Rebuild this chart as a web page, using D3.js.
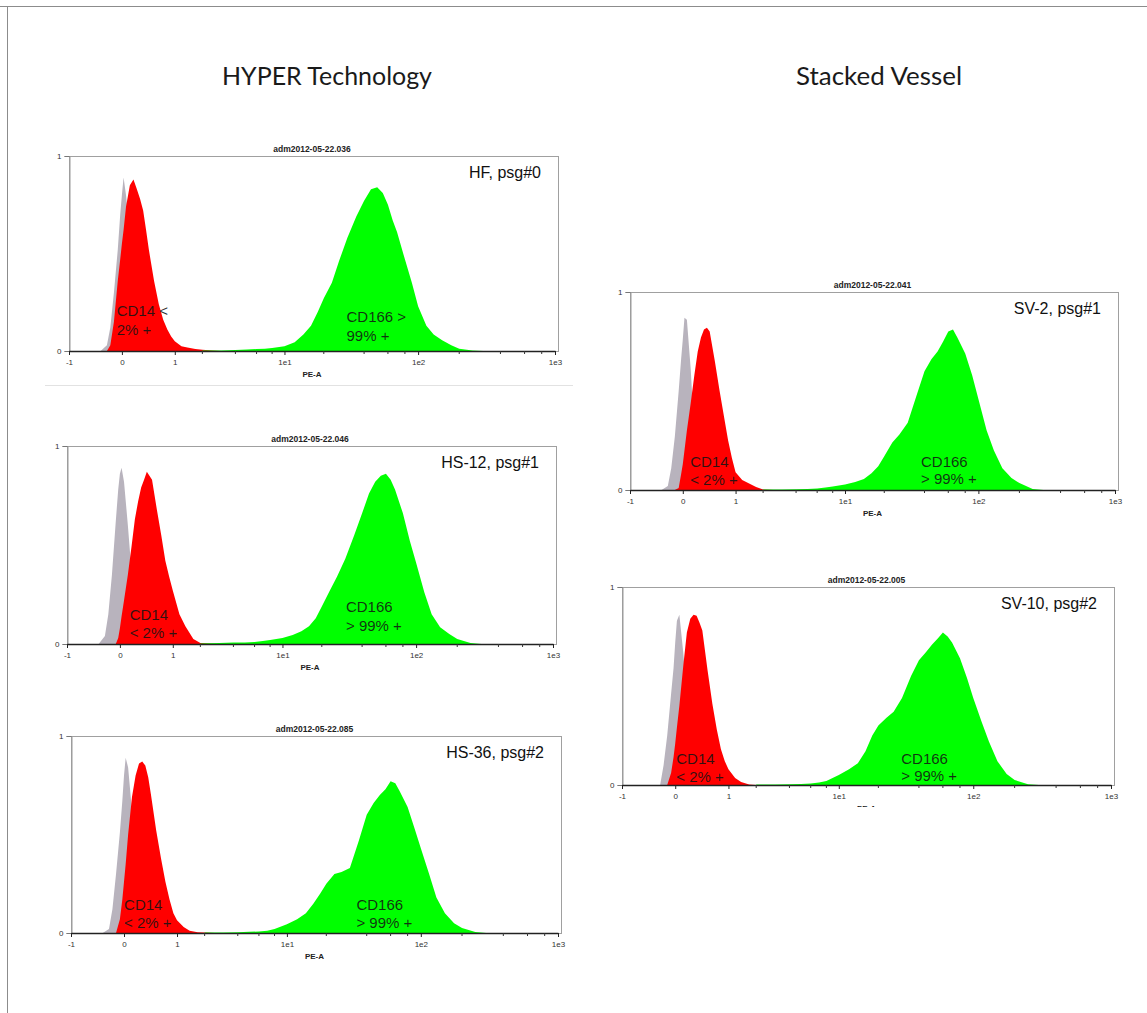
<!DOCTYPE html>
<html>
<head>
<meta charset="utf-8">
<script src="https://cdn.jsdelivr.net/npm/d3@7"></script>
<style>
  body { margin: 0; background: #fff; }
  svg { display: block; }
</style>
</head>
<body>
<svg id="fig" width="1147" height="1013"></svg>
<script>
// PE-A channel values the histograms are sampled on
var leftGrid = [-0.3, -0.2, -0.15, -0.1, -0.05, -0.02, 0, 0.02, 0.05, 0.1, 0.15, 0.2, 0.25, 0.3,
  0.35, 0.4, 0.5, 0.6, 0.7, 0.8, 0.9, 1, 1.2, 1.4, 1.7, 2, 2.5, 3];
var greenGrid = [2, 3, 4, 5, 6, 7, 8, 10, 12, 14, 16, 18, 20, 23, 26, 30, 35, 40, 45, 50, 55,
  60, 65, 70, 80, 90, 100, 115, 130, 150, 175, 200, 250, 300];

var xTickValues = [-1, 0, 1, 10, 100, 1000];
var xTickLabels = ["-1", "0", "1", "1e1", "1e2", "1e3"];
var xMinorTicks = [2, 4, 6, 8, 20, 40, 60, 80, 200, 400, 600, 800];

var columnTitles = ["HYPER Technology", "Stacked Vessel"];
var fileNames = ["adm2012-05-22.036", "adm2012-05-22.046", "adm2012-05-22.085",
  "adm2012-05-22.041", "adm2012-05-22.005"];
var sampleNames = ["HF, psg#0", "HS-12, psg#1", "HS-36, psg#2", "SV-2, psg#1", "SV-10, psg#2"];
var cd14Text = [["CD14 <", "2% +"], ["CD14", "< 2% +"], ["CD14", "< 2% +"], ["CD14", "< 2% +"], ["CD14", "< 2% +"]];
var cd166Text = [["CD166 >", "99% +"], ["CD166", "> 99% +"], ["CD166", "> 99% +"], ["CD166", "> 99% +"], ["CD166", "> 99% +"]];

// normalised counts (isotype = grey, CD14 = red, CD166 = green)
var isoHF   = [0,0.03,0.12,0.30,0.52,0.70,0.80,0.89,0.80,0.60,0.42,0.26,0.15,0.08,0.04,0.02,0,0,0,0,0,0,0,0,0,0,0,0];
var cd14HF  = [0,0,0.03,0.15,0.36,0.47,0.55,0.62,0.74,0.85,0.88,0.83,0.78,0.72,0.62,0.52,0.36,0.24,0.16,0.11,0.075,0.05,0.025,0.018,0.01,0.006,0.003,0];
var cd166HF = [0.002,0.003,0.005,0.008,0.01,0.012,0.016,0.024,0.045,0.085,0.13,0.2,0.27,0.35,0.46,0.58,0.69,0.77,0.83,0.84,0.81,0.75,0.67,0.61,0.47,0.35,0.23,0.13,0.085,0.055,0.03,0.012,0.002,0];

var isoHS12   = [0,0.04,0.15,0.35,0.62,0.78,0.86,0.89,0.82,0.6,0.37,0.2,0.09,0.04,0.015,0,0,0,0,0,0,0,0,0,0,0,0,0];
var cd14HS12  = [0,0,0,0,0,0.03,0.08,0.14,0.22,0.35,0.49,0.63,0.72,0.79,0.83,0.87,0.83,0.68,0.55,0.42,0.34,0.27,0.15,0.09,0.025,0.005,0.002,0];
var cd166HS12 = [0.002,0.005,0.007,0.008,0.01,0.015,0.02,0.03,0.045,0.065,0.09,0.13,0.19,0.27,0.34,0.43,0.55,0.66,0.76,0.82,0.85,0.86,0.83,0.78,0.66,0.52,0.41,0.26,0.15,0.085,0.05,0.025,0.005,0];

var isoHS36   = [0,0.02,0.12,0.3,0.51,0.67,0.8,0.89,0.84,0.62,0.4,0.22,0.1,0.04,0.01,0,0,0,0,0,0,0,0,0,0,0,0,0];
var cd14HS36  = [0,0,0,0,0.07,0.17,0.26,0.35,0.5,0.69,0.8,0.86,0.87,0.85,0.79,0.7,0.52,0.38,0.26,0.17,0.1,0.065,0.03,0.012,0.004,0.002,0,0];
var cd166HS36 = [0.002,0.003,0.004,0.006,0.008,0.012,0.02,0.045,0.07,0.1,0.15,0.2,0.25,0.3,0.31,0.33,0.47,0.6,0.66,0.7,0.73,0.77,0.76,0.72,0.64,0.53,0.43,0.3,0.18,0.1,0.05,0.025,0.005,0];

var isoSV2   = [0,0.02,0.11,0.27,0.5,0.66,0.76,0.87,0.86,0.61,0.28,0.03,0,0,0,0,0,0,0,0,0,0,0,0,0,0,0,0];
var cd14SV2  = [0,0,0,0,0.01,0.08,0.13,0.2,0.3,0.44,0.58,0.7,0.77,0.81,0.82,0.8,0.65,0.5,0.37,0.25,0.16,0.09,0.05,0.035,0.015,0.003,0,0];
var cd166SV2 = [0.002,0.003,0.004,0.005,0.007,0.012,0.018,0.028,0.04,0.056,0.085,0.12,0.17,0.24,0.28,0.34,0.48,0.6,0.66,0.7,0.75,0.8,0.81,0.77,0.69,0.58,0.46,0.3,0.2,0.11,0.06,0.035,0.005,0];

var isoSV10   = [0,0,0.1,0.25,0.46,0.59,0.72,0.83,0.86,0.67,0.44,0.25,0.12,0.05,0.01,0,0,0,0,0,0,0,0,0,0,0,0,0];
var cd14SV10  = [0,0,0,0,0.06,0.14,0.21,0.29,0.4,0.6,0.77,0.84,0.86,0.855,0.82,0.78,0.58,0.41,0.28,0.18,0.12,0.08,0.035,0.015,0.002,0,0,0];
var cd166SV10 = [0.002,0.003,0.004,0.005,0.007,0.012,0.02,0.05,0.08,0.11,0.17,0.25,0.3,0.34,0.37,0.44,0.55,0.63,0.67,0.71,0.74,0.77,0.75,0.72,0.64,0.54,0.44,0.32,0.22,0.12,0.055,0.025,0.004,0];

// where each plot sits on the page
var layout = [
  { x0: 69, x1: 555, yTop: 156, yBot: 351, iso: isoHF, cd14: cd14HF, cd166: cd166HF,
    l14: 0.098, l166: 0.571, b14: [-35, -16], b166: [-29, -10] },
  { x0: 67, x1: 553, yTop: 446, yBot: 644, iso: isoHS12, cd14: cd14HS12, cd166: cd166HS12,
    l14: 0.129, l166: 0.574, b14: [-24, -6], b166: [-32, -13] },
  { x0: 71, x1: 558, yTop: 736, yBot: 933, iso: isoHS36, cd14: cd14HS36, cd166: cd166HS36,
    l14: 0.109, l166: 0.586, b14: [-23, -5], b166: [-23, -5] },
  { x0: 630, x1: 1115, yTop: 292, yBot: 490, iso: isoSV2, cd14: cd14SV2, cd166: cd166SV2,
    l14: 0.124, l166: 0.600, b14: [-23, -5], b166: [-23, -6] },
  { x0: 622, x1: 1111, yTop: 587, yBot: 785, iso: isoSV10, cd14: cd14SV10, cd166: cd166SV10,
    l14: 0.111, l166: 0.571, b14: [-21, -3], b166: [-21, -4], clipBottom: 807 }
];

var FONT = "'Liberation Sans', Arial, sans-serif";
var svg = d3.select("#fig");

svg.append("rect").attr("width", 1147).attr("height", 1013).attr("fill", "#fff");

// page frame (top and left edges only)
svg.append("line").attr("x1", 0).attr("x2", 1147).attr("y1", 6.5).attr("y2", 6.5)
  .attr("stroke", "#8c8c8c").attr("stroke-width", 1);
svg.append("line").attr("x1", 7.5).attr("x2", 7.5).attr("y1", 6).attr("y2", 1013)
  .attr("stroke", "#8c8c8c").attr("stroke-width", 1);

// column headers
var headerX = [327, 879];
var headerW = [210, 166];
svg.selectAll("text.header")
  .data(columnTitles)
  .enter()
  .append("text")
    .attr("class", "header")
    .attr("x", function(d, i){ return headerX[i]; })
    .attr("y", 85)
    .attr("text-anchor", "middle")
    .attr("textLength", function(d, i){ return headerW[i]; })
    .attr("lengthAdjust", "spacingAndGlyphs")
    .attr("font-family", "Lato, 'Open Sans', sans-serif")
    .attr("font-size", 25)
    .attr("fill", "#1a1a1a")
    .text(function(d){ return d; });

// thin rule under the first plot
svg.append("line").attr("x1", 45).attr("x2", 573).attr("y1", 385.5).attr("y2", 385.5)
  .attr("stroke", "#e2e2e2").attr("stroke-width", 1);

var defs = svg.append("defs");

layout.forEach(function(p, k){
  var x = d3.scaleSymlog().constant(0.7).domain([-1, 1000]).range([p.x0, p.x1]);
  var y = d3.scaleLinear().domain([0, 1]).range([p.yBot, p.yTop]);
  var g = svg.append("g");

  if (p.clipBottom) {
    defs.append("clipPath").attr("id", "clip" + k)
      .append("rect").attr("x", p.x0 - 60).attr("y", p.yTop - 30)
      .attr("width", p.x1 - p.x0 + 120).attr("height", p.clipBottom - p.yTop + 30);
    g.attr("clip-path", "url(#clip" + k + ")");
  }

  // plot frame
  g.append("rect")
    .attr("x", p.x0 + 0.5).attr("y", p.yTop + 0.5)
    .attr("width", p.x1 - p.x0 + 3).attr("height", p.yBot - p.yTop)
    .attr("fill", "none").attr("stroke", "#a0a0a0").attr("stroke-width", 1);

  var areaOn = function(grid){
    return d3.area()
      .x(function(d, i){ return x(grid[i]); })
      .y0(y(0))
      .y1(function(d){ return y(d); });
  };

  g.append("path").datum(p.iso).attr("d", areaOn(leftGrid)).attr("fill", "#b8b3bd");
  g.append("path").datum(p.cd14).attr("d", areaOn(leftGrid)).attr("fill", "#ff0000");
  g.append("path").datum(p.cd166).attr("d", areaOn(greenGrid)).attr("fill", "#00ff00");

  // y axis
  var yAxis = g.append("g")
    .attr("transform", "translate(" + (p.x0 + 0.5) + ",0)")
    .call(d3.axisLeft(y).tickValues([0, 1]).tickFormat(d3.format("d")).tickSize(5).tickPadding(3));
  yAxis.select(".domain").attr("stroke", "#9a9a9a");
  yAxis.selectAll(".tick line").attr("stroke", "#777");
  yAxis.selectAll("text").attr("font-family", FONT).attr("font-size", 8).attr("fill", "#333");

  // x axis
  var xAxis = g.append("g")
    .attr("transform", "translate(0," + p.yBot + ")")
    .call(d3.axisBottom(x).tickValues(xTickValues)
      .tickFormat(function(d, i){ return xTickLabels[i]; })
      .tickSize(4).tickSizeOuter(0).tickPadding(4));
  xAxis.select(".domain").attr("stroke", "#222").attr("stroke-width", 1.6);
  xAxis.selectAll(".tick line").attr("stroke", "#222");
  xAxis.selectAll("text").attr("font-family", FONT).attr("font-size", 8).attr("fill", "#333");

  g.selectAll("line.minor")
    .data(xMinorTicks)
    .enter()
    .append("line")
      .attr("class", "minor")
      .attr("x1", function(d){ return x(d); })
      .attr("x2", function(d){ return x(d); })
      .attr("y1", p.yBot)
      .attr("y2", p.yBot + 3)
      .attr("stroke", "#333");

  var cx = (p.x0 + p.x1) / 2;
  g.append("text")
    .attr("x", cx).attr("y", p.yTop - 4)
    .attr("text-anchor", "middle")
    .attr("font-family", FONT).attr("font-size", 8.5).attr("font-weight", "bold")
    .attr("fill", "#222")
    .text(fileNames[k]);

  g.append("text")
    .attr("x", cx).attr("y", p.yBot + 26)
    .attr("text-anchor", "middle")
    .attr("font-family", FONT).attr("font-size", 8).attr("font-weight", "bold")
    .attr("fill", "#222")
    .text("PE-A");

  g.append("text")
    .attr("x", p.x1 - 14).attr("y", p.yTop + 22)
    .attr("text-anchor", "end")
    .attr("font-family", FONT).attr("font-size", 16)
    .attr("fill", "#111")
    .text(sampleNames[k]);

  var w = p.x1 - p.x0;
  [[cd14Text[k], p.l14, p.b14], [cd166Text[k], p.l166, p.b166]].forEach(function(lab){
    lab[0].forEach(function(line, j){
      g.append("text")
        .attr("x", p.x0 + lab[1] * w)
        .attr("y", p.yBot + lab[2][j])
        .attr("font-family", FONT).attr("font-size", 15)
        .attr("fill", "#141414").attr("fill-opacity", 0.88)
        .text(line);
    });
  });
});
</script>
</body>
</html>
